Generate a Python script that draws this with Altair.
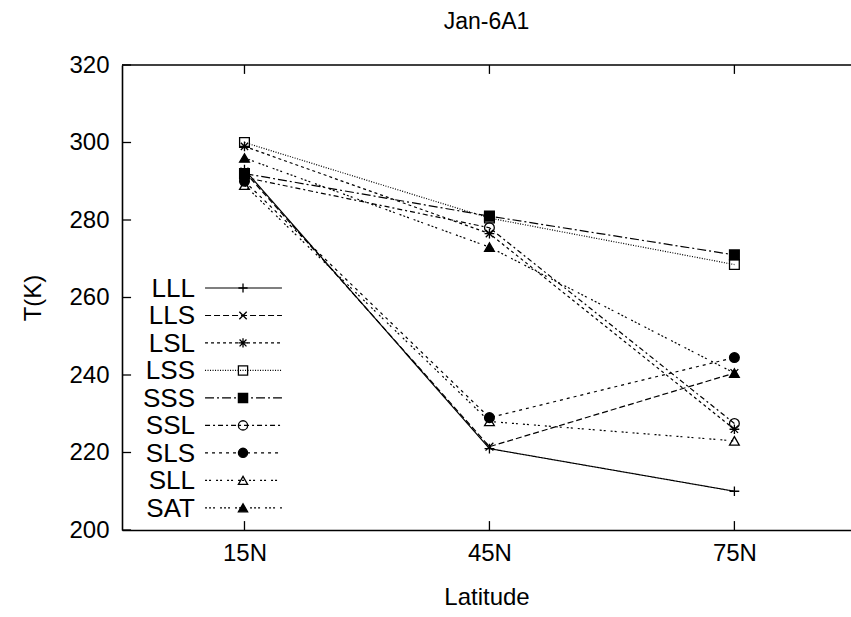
import altair as alt
import pandas as pd

# ---- data ----
series = ["LLL", "LLS", "LSL", "LSS", "SSS", "SSL", "SLS", "SLL", "SAT"]
lat_labels = ["15N", "45N", "75N"]
lat_pos = [0.5, 1.5, 2.5]
t_15n = [293.0, 292.5, 299.0, 300.0, 292.0, 291.0, 290.0, 289.0, 296.0]
t_45n = [221.0, 221.5, 276.5, 280.5, 281.0, 278.0, 229.0, 228.0, 273.0]
t_75n = [210.0, 240.5, 226.0, 268.5, 271.0, 227.5, 244.5, 223.0, 240.5]
y_ticks = [200, 220, 240, 260, 280, 300, 320]

# ---- styles ----
dashes = [[1, 0], [6, 3], [3, 3], [1, 1.5], [9, 3, 2, 3], [5, 3, 2, 3],
          [3, 4], [2, 2, 2, 5], [2, 2, 2, 2, 2, 5]]
shapes = [
    "M-1,0L1,0M0,-1L0,1",
    "M-0.8,-0.8L0.8,0.8M-0.8,0.8L0.8,-0.8",
    "M-1,0L1,0M0,-1L0,1M-0.75,-0.75L0.75,0.75M-0.75,0.75L0.75,-0.75",
    "square", "square", "circle", "circle", "triangle-up", "triangle-up",
]
fills = ["black", "black", "black", "transparent", "black", "transparent",
         "black", "transparent", "black"]

FONT = "Liberation Sans"
XMAX = 2.976

rows = []
for i, s in enumerate(series):
    for p, v in zip(lat_pos, [t_15n[i], t_45n[i], t_75n[i]]):
        rows.append({"series": s, "xpos": p, "T": v})
df = pd.DataFrame(rows)

leg = pd.DataFrame({
    "series": series,
    "ly": [262.45 - i * 7.09 for i in range(len(series))],
})
leg["tx"] = 0.298
leg["lx1"] = 0.339
leg["lx2"] = 0.653
leg["mx"] = 0.494

label_expr = " : ".join(
    [f"datum.value == {p} ? '{l}'" for p, l in zip(lat_pos, lat_labels)]
) + " : ''"

xs = alt.Scale(domain=[0, XMAX], nice=False, zero=False)
ys = alt.Scale(domain=[200, 320], nice=False, zero=False)
xaxis = alt.Axis(values=lat_pos, labelExpr=label_expr, title="Latitude",
                 labelPadding=11, titlePadding=20)
yaxis = alt.Axis(values=y_ticks, title="T(K)", labelPadding=13, titlePadding=23)


def X(f):
    return alt.X(f, type="quantitative", scale=xs, axis=xaxis)


def Y(f):
    return alt.Y(f, type="quantitative", scale=ys, axis=yaxis)


dash_enc = alt.StrokeDash("series:N", scale=alt.Scale(domain=series, range=dashes), legend=None)
shape_enc = alt.Shape("series:N", scale=alt.Scale(domain=series, range=shapes), legend=None)
fill_enc = alt.Fill("series:N", scale=alt.Scale(domain=series, range=fills), legend=None)

lines = alt.Chart(df).mark_line(stroke="black", strokeWidth=1.2).encode(
    x=X("xpos"), y=Y("T"), detail="series:N", strokeDash=dash_enc
)
points = alt.Chart(df).mark_point(filled=True, stroke="black", strokeWidth=1.3,
                                  opacity=1, size=95).encode(
    x=X("xpos"), y=Y("T"), shape=shape_enc, fill=fill_enc
)

leg_text = alt.Chart(leg).mark_text(align="right", baseline="middle", fontSize=26,
                                    font=FONT, color="black", dy=1).encode(
    x=X("tx"), y=Y("ly"), text="series:N"
)
leg_lines = alt.Chart(leg).mark_rule(stroke="black", strokeWidth=1.2).encode(
    x=X("lx1"), x2="lx2", y=Y("ly"), strokeDash=dash_enc
)
leg_pts = alt.Chart(leg).mark_point(filled=True, stroke="black", strokeWidth=1.3,
                                    opacity=1, size=85).encode(
    x=X("mx"), y=Y("ly"), shape=shape_enc, fill=fill_enc
)

# inward tick marks (gnuplot style) and top frame
ytk = pd.DataFrame({"v": y_ticks, "x0": 0.0, "x1": 0.037})
xtk = pd.DataFrame({"p": lat_pos, "b0": 200.0, "b1": 202.3, "t0": 320.0, "t1": 317.7})
frame = pd.DataFrame({"x0": [0.0], "x1": [XMAX], "y": [320.0]})

ytick_rules = alt.Chart(ytk).mark_rule(stroke="black", strokeWidth=1.3).encode(
    x=X("x0"), x2="x1", y=Y("v"))
xtick_bot = alt.Chart(xtk).mark_rule(stroke="black", strokeWidth=1.3).encode(
    x=X("p"), y=Y("b0"), y2="b1")
xtick_top = alt.Chart(xtk).mark_rule(stroke="black", strokeWidth=1.3).encode(
    x=X("p"), y=Y("t0"), y2="t1")
top_rule = alt.Chart(frame).mark_rule(stroke="black", strokeWidth=1.6).encode(
    x=X("x0"), x2="x1", y=Y("y"))

chart = alt.layer(
    lines, points, leg_lines, leg_pts, leg_text,
    ytick_rules, xtick_bot, xtick_top, top_rule
).properties(
    width=729, height=465,
    title=alt.TitleParams("Jan-6A1", fontSize=23, font=FONT, fontWeight="normal",
                          color="black", anchor="middle", offset=19),
    autosize=alt.AutoSizeParams(type="none"),
    padding={"left": 122, "top": 65, "right": 0, "bottom": 87},
).configure_view(stroke=None).configure_axis(
    grid=False, ticks=False, domain=True, domainColor="black", domainWidth=1.6,
    labelFont=FONT, labelFontSize=24, labelColor="black",
    titleFont=FONT, titleFontSize=24, titleColor="black", titleFontWeight="normal",
)

chart.save("out.html", embed_options={"renderer": "svg", "actions": False})
